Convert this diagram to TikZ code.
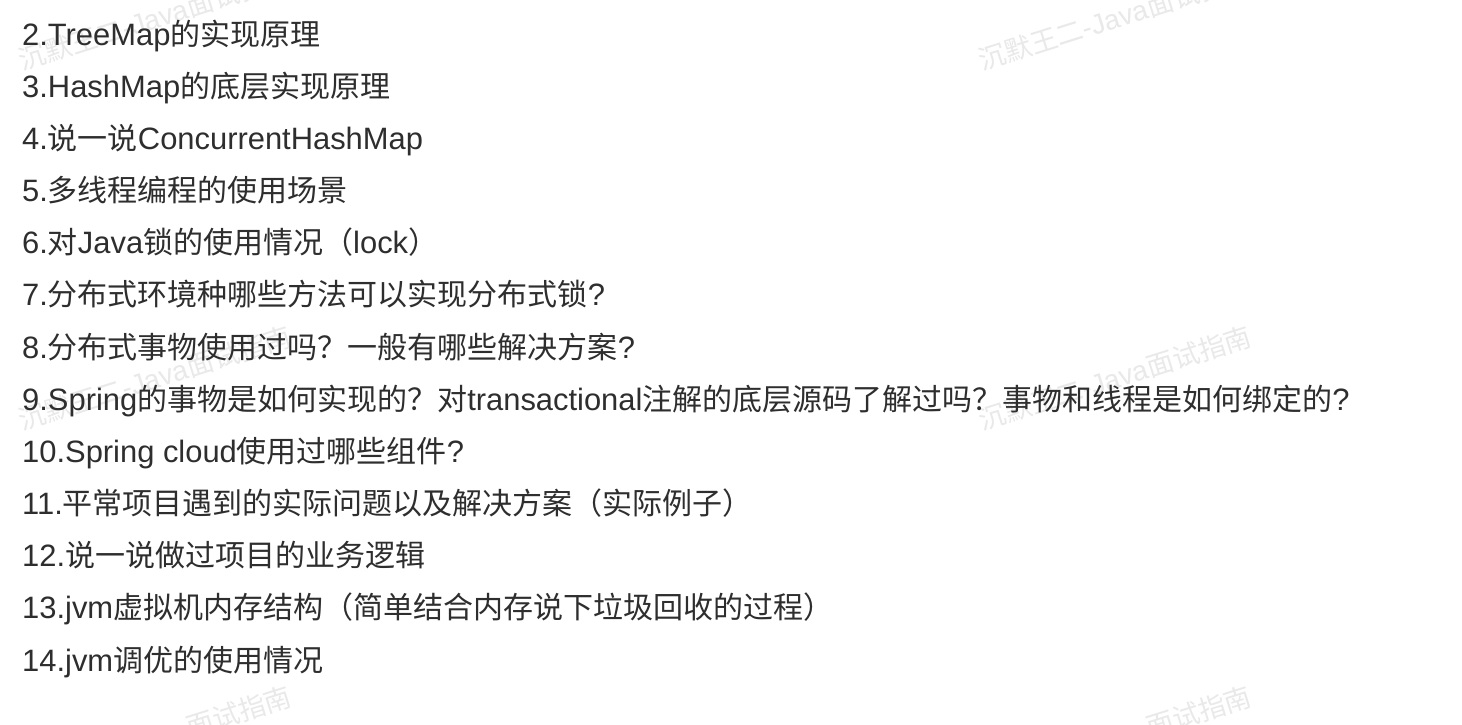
\documentclass[tikz,border=0pt]{standalone}
\usepackage{fontspec}
\setmainfont{Liberation Sans}[Scale=1.03]
\newfontfamily\cjk{Noto Sans CJK SC}
\newcommand{\zh}[1]{{\cjk #1}}
\usepackage{tikz}
\usetikzlibrary{positioning}
\definecolor{itemtext}{HTML}{2E2E2E}
\definecolor{marktext}{HTML}{E9E9E9}
\tikzset{item/.style={anchor=base west,inner sep=0pt,text=itemtext,font=\fontsize{30pt}{36pt}\selectfont}}
\tikzset{wmark/.style={inner sep=0pt,text=marktext,rotate=17.5,font=\fontsize{27pt}{32pt}\selectfont}}

\begin{document}
\begin{tikzpicture}[x=1pt,y=-1pt]
\useasboundingbox (0,0) rectangle (1462,724);
\fill[white] (0,0) rectangle (1462,724);
\clip (0,0) rectangle (1462,724);
% watermarks
\node (w1) [wmark] at (155,18) {\zh{沉默王二}-Java\zh{面试指南}};
\node (w2) [wmark] at (1115,18) {\zh{沉默王二}-Java\zh{面试指南}};
\node (w3) [wmark] at (155,378) {\zh{沉默王二}-Java\zh{面试指南}};
\node (w4) [wmark] at (1115,378) {\zh{沉默王二}-Java\zh{面试指南}};
\node (w5) [wmark] at (155,738) {\zh{沉默王二}-Java\zh{面试指南}};
\node (w6) [wmark] at (1115,738) {\zh{沉默王二}-Java\zh{面试指南}};
%
\node (q2) [item] at (22,45) {2.TreeMap\zh{的实现原理}};
\node (q3) [item] at (22,97.2) {3.HashMap\zh{的底层实现原理}};
\node (q4) [item] at (22,149.3) {4.\zh{说一说}ConcurrentHashMap};
\node (q5) [item] at (22,201.5) {5.\zh{多线程编程的使用场景}};
\node (q6) [item] at (22,253.7) {6.\zh{对}Java\zh{锁的使用情况（}lock\zh{）}};
\node (q7) [item] at (22,305.8) {7.\zh{分布式环境种哪些方法可以实现分布式锁}?};
\node (q8) [item] at (22,358.0) {8.\zh{分布式事物使用过吗？一般有哪些解决方案}?};
\node (q9) [item] at (22,410.2) {9.Spring\zh{的事物是如何实现的？对}transactional\zh{注解的底层源码了解过吗？事物和线程是如何绑定的}?};
\node (q10) [item] at (22,462.4) {10.Spring cloud\zh{使用过哪些组件}?};
\node (q11) [item] at (22,514.5) {11.\zh{平常项目遇到的实际问题以及解决方案（实际例子）}};
\node (q12) [item] at (22,566.7) {12.\zh{说一说做过项目的业务逻辑}};
\node (q13) [item] at (22,618.9) {13.jvm\zh{虚拟机内存结构（简单结合内存说下垃圾回收的过程）}};
\node (q14) [item] at (22,671.0) {14.jvm\zh{调优的使用情况}};
\end{tikzpicture}
\end{document}
